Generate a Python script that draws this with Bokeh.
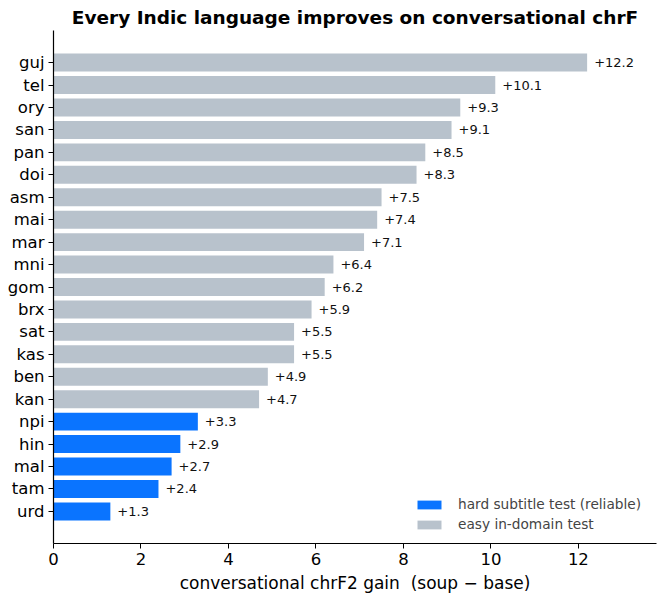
from bokeh.plotting import figure
from bokeh.models import ColumnDataSource, FixedTicker, Legend, LegendItem, Range1d
from bokeh.core.properties import value
from bokeh.embed import file_html
from bokeh.resources import INLINE

# Languages listed bottom to top, with their conversational chrF2 gain (soup - base)
langs = ["urd", "tam", "mal", "hin", "npi", "kan", "ben", "kas", "sat", "brx", "gom",
         "mni", "mar", "mai", "asm", "doi", "pan", "san", "ory", "tel", "guj"]
gains = [1.3, 2.4, 2.7, 2.9, 3.3, 4.7, 4.9, 5.5, 5.5, 5.9, 6.2,
         6.4, 7.1, 7.4, 7.5, 8.3, 8.5, 9.1, 9.3, 10.1, 12.2]
test_set = ["hard"] * 5 + ["easy"] * 16
x_ticks = [0, 2, 4, 6, 8, 10, 12]

BLUE = "#0a74ff"
GREY = "#b8c2cc"
FONT = "DejaVu Sans"

pos = list(range(len(langs)))
labels = [f"+{g:.1f}" for g in gains]

def subset(kind):
    idx = [i for i, t in enumerate(test_set) if t == kind]
    return ColumnDataSource(dict(
        pos=[pos[i] for i in idx],
        gain=[gains[i] for i in idx],
    ))

hard_src = subset("hard")
easy_src = subset("easy")
label_src = ColumnDataSource(dict(pos=pos, gain=gains, label=labels))

p = figure(
    frame_width=603, frame_height=513,
    min_border_left=53, min_border_right=8, min_border_top=30, min_border_bottom=58,
    x_range=Range1d(0, max(gains) * 1.13),
    y_range=Range1d(-1.43, len(langs) - 1 + 1.43),
    output_backend="svg", toolbar_location=None,
    title="Every Indic language improves on conversational chrF",
)
p.background_fill_color = "white"
p.border_fill_color = "white"
p.outline_line_color = None
p.grid.visible = False

p.title.align = "center"
p.title.text_font = FONT
p.title.text_font_size = "18.5px"
p.title.text_font_style = "bold"
p.title.text_color = "black"
p.title.standoff = 5

r_easy = p.hbar(y="pos", right="gain", left=0, height=0.8, source=easy_src,
                fill_color=GREY, line_color=None)
r_hard = p.hbar(y="pos", right="gain", left=0, height=0.8, source=hard_src,
                fill_color=BLUE, line_color=None)

p.text(x="gain", y="pos", text="label", source=label_src, x_offset=7,
       text_baseline="middle", text_align="left",
       text_font=value(FONT), text_font_size="13px", text_color="#111111")

# Axes
p.xaxis.ticker = FixedTicker(ticks=x_ticks)
p.xaxis.axis_label = "conversational chrF2 gain\u00a0 (soup \u2212 base)"
p.yaxis.ticker = FixedTicker(ticks=pos)
p.yaxis.major_label_overrides = {i: name for i, name in enumerate(langs)}

for ax in (p.xaxis[0], p.yaxis[0]):
    ax.major_tick_out = 5
    ax.major_tick_in = 0
    ax.minor_tick_line_color = None
    ax.axis_line_color = "black"
    ax.axis_line_width = 1.2
    ax.major_tick_line_color = "black"
    ax.major_label_text_font = FONT
    ax.major_label_text_font_size = "16.5px"
    ax.major_label_text_color = "black"
    ax.axis_label_text_font = FONT
    ax.axis_label_text_font_size = "17px"
    ax.axis_label_text_font_style = "normal"
    ax.axis_label_text_color = "black"

p.xaxis.major_label_standoff = 4
p.xaxis.axis_label_standoff = 5
p.yaxis.major_label_standoff = 4

legend = Legend(
    items=[
        LegendItem(label="hard subtitle test (reliable)", renderers=[r_hard]),
        LegendItem(label="easy in-domain test", renderers=[r_easy]),
    ],
    location=(361, 11),
    border_line_color=None,
    background_fill_alpha=0,
    glyph_width=30, glyph_height=11,
    label_text_font=FONT, label_text_font_size="13.7px",
    label_standoff=14, spacing=4, padding=8, margin=0,
)
p.add_layout(legend)

open("out.html", "w").write(file_html(p, INLINE))
